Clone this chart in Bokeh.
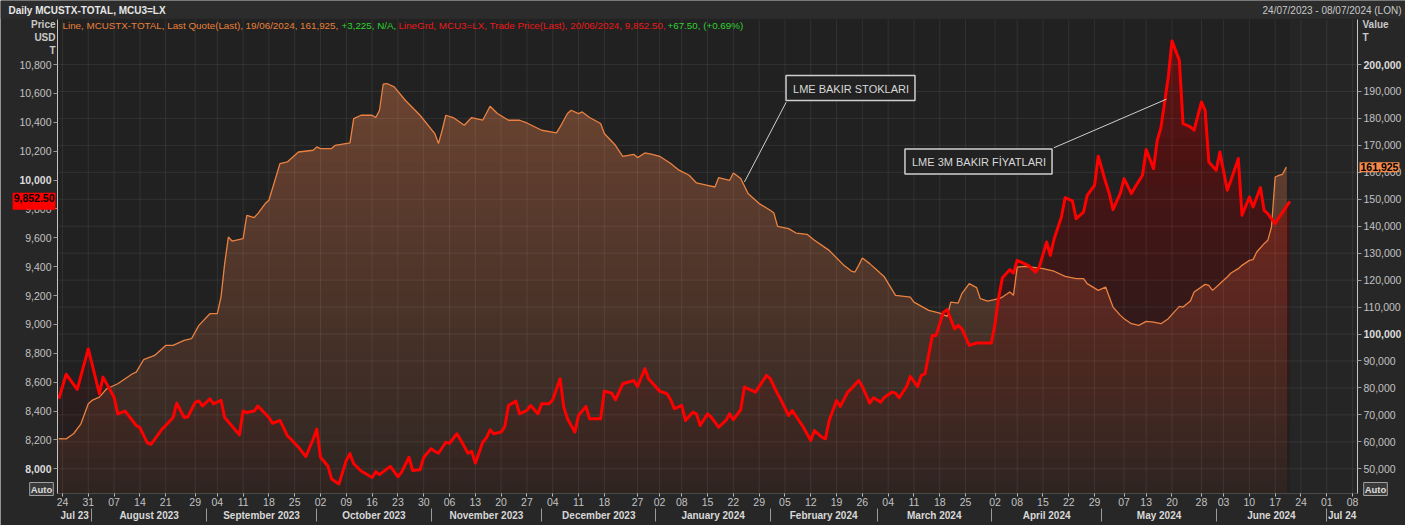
import numpy as np
import pandas as pd
from bokeh.plotting import figure
from bokeh.models import (Range1d, LinearAxis, FixedTicker, NumeralTickFormatter,
                          DatetimeTickFormatter, Label, Arrow, BoxAnnotation)
from bokeh.embed import file_html
from bokeh.resources import INLINE

# ---------------- data ----------------
price_dates = [
    "2023-07-23", "2023-07-25", "2023-07-28", "2023-07-31", "2023-08-03", "2023-08-04", "2023-08-07",
    "2023-08-08", "2023-08-10", "2023-08-13", "2023-08-14", "2023-08-16", "2023-08-17", "2023-08-20",
    "2023-08-21", "2023-08-23", "2023-08-24", "2023-08-26", "2023-08-27", "2023-08-29", "2023-08-30",
    "2023-08-31", "2023-09-02", "2023-09-03", "2023-09-05", "2023-09-06", "2023-09-10", "2023-09-11",
    "2023-09-12", "2023-09-14", "2023-09-15", "2023-09-18", "2023-09-19", "2023-09-21", "2023-09-23",
    "2023-09-24", "2023-09-26", "2023-09-28", "2023-09-30", "2023-10-01", "2023-10-02", "2023-10-04",
    "2023-10-05", "2023-10-07", "2023-10-09", "2023-10-10", "2023-10-11", "2023-10-13", "2023-10-16",
    "2023-10-17", "2023-10-18", "2023-10-20", "2023-10-21", "2023-10-23", "2023-10-24", "2023-10-26",
    "2023-10-27", "2023-10-29", "2023-10-30", "2023-11-01", "2023-11-02", "2023-11-03", "2023-11-05",
    "2023-11-06", "2023-11-08", "2023-11-09", "2023-11-11", "2023-11-12", "2023-11-13", "2023-11-15",
    "2023-11-16", "2023-11-17", "2023-11-18", "2023-11-20", "2023-11-21", "2023-11-22", "2023-11-24",
    "2023-11-25", "2023-11-27", "2023-11-28", "2023-11-30", "2023-12-01", "2023-12-03", "2023-12-04",
    "2023-12-06", "2023-12-07", "2023-12-08", "2023-12-10", "2023-12-11", "2023-12-13", "2023-12-14",
    "2023-12-16", "2023-12-17", "2023-12-18", "2023-12-20", "2023-12-21", "2023-12-23", "2023-12-26",
    "2023-12-27", "2023-12-29", "2023-12-30", "2024-01-01", "2024-01-02", "2024-01-04", "2024-01-05",
    "2024-01-06", "2024-01-08", "2024-01-09", "2024-01-11", "2024-01-12", "2024-01-13", "2024-01-15",
    "2024-01-16", "2024-01-18", "2024-01-20", "2024-01-21", "2024-01-22", "2024-01-24", "2024-01-25",
    "2024-01-28", "2024-01-31", "2024-02-01", "2024-02-03", "2024-02-04", "2024-02-06", "2024-02-07",
    "2024-02-10", "2024-02-12", "2024-02-13", "2024-02-15", "2024-02-16", "2024-02-17", "2024-02-19",
    "2024-02-20", "2024-02-22", "2024-02-23", "2024-02-25", "2024-02-26", "2024-02-28", "2024-02-29",
    "2024-03-02", "2024-03-03", "2024-03-05", "2024-03-06", "2024-03-07", "2024-03-09", "2024-03-10",
    "2024-03-12", "2024-03-13", "2024-03-14", "2024-03-16", "2024-03-17", "2024-03-19", "2024-03-20",
    "2024-03-22", "2024-03-23", "2024-03-24", "2024-03-26", "2024-03-28", "2024-03-30", "2024-04-01",
    "2024-04-02", "2024-04-03", "2024-04-04", "2024-04-06", "2024-04-07", "2024-04-08", "2024-04-11",
    "2024-04-13", "2024-04-14", "2024-04-16", "2024-04-17", "2024-04-18", "2024-04-20", "2024-04-21",
    "2024-04-23", "2024-04-24", "2024-04-26", "2024-04-27", "2024-04-29", "2024-04-30", "2024-05-02",
    "2024-05-03", "2024-05-04", "2024-05-06", "2024-05-07", "2024-05-09", "2024-05-10", "2024-05-12",
    "2024-05-13", "2024-05-15", "2024-05-16", "2024-05-17", "2024-05-19", "2024-05-20", "2024-05-22",
    "2024-05-23", "2024-05-25", "2024-05-26", "2024-05-28", "2024-05-29", "2024-05-30", "2024-06-01",
    "2024-06-02", "2024-06-04", "2024-06-05", "2024-06-07", "2024-06-08", "2024-06-10", "2024-06-11",
    "2024-06-13", "2024-06-14", "2024-06-15", "2024-06-17", "2024-06-18", "2024-06-21",
]
price_values = [
    8485, 8655, 8550, 8830, 8520, 8635, 8495,
    8380, 8400, 8300, 8285, 8180, 8170, 8275,
    8300, 8355, 8455, 8355, 8360, 8460, 8470,
    8435, 8485, 8450, 8475, 8355, 8235, 8400,
    8390, 8400, 8435, 8355, 8315, 8335, 8230,
    8205, 8150, 8085, 8205, 8275, 8080, 8020,
    7930, 7895, 8060, 8105, 8035, 7985, 7940,
    7980, 7960, 8000, 8015, 7945, 7977, 8080,
    7988, 7993, 8080, 8139, 8122, 8108, 8184,
    8177, 8243, 8201, 8108, 8122, 8039, 8184,
    8215, 8270, 8243, 8254, 8293, 8439, 8469,
    8381, 8404, 8439, 8381, 8451, 8451, 8478,
    8624, 8427, 8347, 8254, 8369, 8432, 8347,
    8347, 8347, 8538, 8524, 8478, 8589, 8612,
    8570, 8693, 8624, 8566, 8538, 8520, 8478,
    8416, 8439, 8335, 8392, 8381, 8300, 8381,
    8358, 8288, 8335, 8381, 8340, 8409, 8566,
    8531, 8647, 8624, 8520, 8473, 8369, 8404,
    8288, 8196, 8265, 8219, 8208, 8335, 8473,
    8432, 8531, 8554, 8612, 8570, 8455, 8492,
    8462, 8496, 8531, 8524, 8492, 8570, 8640,
    8570, 8647, 8658, 8924, 8924, 9085, 9102,
    8970, 8993, 8970, 8855, 8871, 8871, 8871,
    9005, 9189, 9324, 9379, 9356, 9444, 9409,
    9363, 9397, 9571, 9478, 9590, 9744, 9878,
    9855, 9733, 9778, 9894, 9964, 10165, 9986,
    9906, 9795, 9910, 10010, 9906, 9952, 10033,
    10211, 10079, 10275, 10363, 10714, 10964, 10830,
    10391, 10368, 10345, 10541, 10483, 10125, 10068,
    10194, 9929, 9998, 10149, 9756, 9882, 9813,
    9948, 9790, 9767, 9698, 9740, 9852.50,
]

stock_dates = [
    "2023-07-23", "2023-07-25", "2023-07-27", "2023-07-29", "2023-07-31", "2023-08-01", "2023-08-03",
    "2023-08-05", "2023-08-08", "2023-08-12", "2023-08-13", "2023-08-15", "2023-08-18", "2023-08-21",
    "2023-08-23", "2023-08-26", "2023-08-28", "2023-08-30", "2023-09-02", "2023-09-04", "2023-09-05",
    "2023-09-06", "2023-09-07", "2023-09-08", "2023-09-11", "2023-09-12", "2023-09-14", "2023-09-15",
    "2023-09-17", "2023-09-18", "2023-09-21", "2023-09-23", "2023-09-26", "2023-09-30", "2023-10-01",
    "2023-10-02", "2023-10-05", "2023-10-06", "2023-10-10", "2023-10-11", "2023-10-13", "2023-10-16",
    "2023-10-17", "2023-10-18", "2023-10-19", "2023-10-20", "2023-10-22", "2023-10-25", "2023-10-29",
    "2023-11-02", "2023-11-03", "2023-11-04", "2023-11-05", "2023-11-07", "2023-11-10", "2023-11-12",
    "2023-11-15", "2023-11-17", "2023-11-19", "2023-11-22", "2023-11-25", "2023-11-27", "2023-12-01",
    "2023-12-05", "2023-12-06", "2023-12-08", "2023-12-09", "2023-12-11", "2023-12-12", "2023-12-14",
    "2023-12-17", "2023-12-18", "2023-12-21", "2023-12-23", "2023-12-26", "2023-12-27", "2023-12-29",
    "2023-12-31", "2024-01-02", "2024-01-05", "2024-01-07", "2024-01-10", "2024-01-12", "2024-01-15",
    "2024-01-17", "2024-01-18", "2024-01-21", "2024-01-22", "2024-01-24", "2024-01-26", "2024-01-29",
    "2024-02-01", "2024-02-02", "2024-02-03", "2024-02-06", "2024-02-08", "2024-02-11", "2024-02-13",
    "2024-02-17", "2024-02-21", "2024-02-23", "2024-02-24", "2024-02-25", "2024-02-26", "2024-02-28",
    "2024-03-01", "2024-03-03", "2024-03-06", "2024-03-10", "2024-03-11", "2024-03-15", "2024-03-18",
    "2024-03-20", "2024-03-21", "2024-03-23", "2024-03-24", "2024-03-26", "2024-03-28", "2024-03-29",
    "2024-03-31", "2024-04-03", "2024-04-04", "2024-04-06", "2024-04-07", "2024-04-08", "2024-04-10",
    "2024-04-13", "2024-04-15", "2024-04-18", "2024-04-21", "2024-04-24", "2024-04-26", "2024-04-27",
    "2024-04-30", "2024-05-02", "2024-05-03", "2024-05-04", "2024-05-06", "2024-05-07", "2024-05-09",
    "2024-05-11", "2024-05-13", "2024-05-15", "2024-05-17", "2024-05-19", "2024-05-21", "2024-05-22",
    "2024-05-23", "2024-05-25", "2024-05-26", "2024-05-29", "2024-05-30", "2024-05-31", "2024-06-02",
    "2024-06-03", "2024-06-04", "2024-06-05", "2024-06-07", "2024-06-08", "2024-06-10", "2024-06-11",
    "2024-06-12", "2024-06-14", "2024-06-15", "2024-06-16", "2024-06-17", "2024-06-18", "2024-06-19",
    "2024-06-20",
]
stock_values = [
    61140, 61100, 63000, 66700, 74100, 75360, 76600,
    79700, 81560, 85270, 85870, 90470, 92070, 95780,
    95780, 97640, 98270, 103200, 107550, 107550, 113700,
    126100, 135990, 134500, 135400, 144050, 143200, 144680,
    148400, 149620, 163250, 163840, 167550, 168190, 169410,
    168820, 168820, 170040, 170900, 179960, 181180, 181180,
    180330, 183040, 192690, 192950, 191690, 186750, 181180,
    174390, 170670, 175610, 181180, 180330, 177470, 180330,
    179330, 184520, 181810, 179330, 179330, 178320, 175610,
    174610, 176840, 181810, 183040, 181810, 182410, 180330,
    178100, 174390, 170040, 165960, 166700, 165470, 167180,
    166700, 165960, 163250, 161020, 158900, 156050, 155190,
    154560, 158000, 157050, 159760, 157680, 152110, 148400,
    145910, 144900, 139970, 139110, 137480, 137000, 134770,
    131050, 125490, 123370, 123000, 125490, 128200, 126120,
    123630, 121140, 114350, 113710, 111860, 108780, 107770,
    106550, 111860, 111490, 114980, 118690, 117210, 113120,
    112230, 113120, 113710, 115570, 114350, 124850, 125110,
    124630, 124260, 123300, 121400, 120550, 120550, 118690,
    116200, 117430, 113710, 110000, 106920, 105700, 103840,
    103210, 104690, 104440, 103840, 105700, 108780, 110260,
    110000, 112230, 115570, 118430, 118060, 116200, 118690,
    119920, 121140, 122630, 124260, 125490, 127340, 127600,
    130420, 133540, 134770, 139710, 158270, 158900, 159280,
    161925,
]

day_ticks = [
    "2023-07-24", "2023-07-31", "2023-08-07", "2023-08-14", "2023-08-21", "2023-08-29", "2023-09-04",
    "2023-09-11", "2023-09-18", "2023-09-25", "2023-10-02", "2023-10-09", "2023-10-16", "2023-10-23",
    "2023-10-30", "2023-11-06", "2023-11-13", "2023-11-20", "2023-11-27", "2023-12-04", "2023-12-11",
    "2023-12-18", "2023-12-27", "2024-01-02", "2024-01-08", "2024-01-15", "2024-01-22", "2024-01-29",
    "2024-02-05", "2024-02-12", "2024-02-19", "2024-02-26", "2024-03-04", "2024-03-11", "2024-03-18",
    "2024-03-25", "2024-04-02", "2024-04-08", "2024-04-15", "2024-04-22", "2024-04-29", "2024-05-07",
    "2024-05-13", "2024-05-20", "2024-05-28", "2024-06-03", "2024-06-10", "2024-06-17", "2024-06-24",
    "2024-07-01", "2024-07-08",
]
month_names = ["Jul 23", "August 2023", "September 2023", "October 2023", "November 2023",
               "December 2023", "January 2024", "February 2024", "March 2024", "April 2024",
               "May 2024", "June 2024", "Jul 24"]
month_starts = ["2023-08-01", "2023-09-01", "2023-10-01", "2023-11-01", "2023-12-01", "2024-01-01",
                "2024-02-01", "2024-03-01", "2024-04-01", "2024-05-01", "2024-06-01", "2024-07-01"]
price_ticks = list(range(8000, 10801, 200))
stock_ticks = list(range(50000, 200001, 10000))
price_bold = [8000, 10000]
stock_bold = [100000, 200000]

# ---------------- geometry helpers ----------------
def ms(s):
    return int(pd.Timestamp(s).value // 10**6)

def hexc(rgb):
    return "#%02x%02x%02x" % tuple(int(round(c)) for c in rgb)

W, H = 1405, 525                         # canvas == frame
CL, CR, CT, CB = 57, 1357, 19, 493       # chart (plot-area) box in canvas pixels
X_START, X_END = ms("2023-07-22 15:30"), ms("2024-07-09 08:00")
P_LO, P_HI = 7829, 11112
S_LO, S_HI = 40829, 216709

mpp = (X_END - X_START) / (CR - CL)
spp = (S_HI - S_LO) / (CB - CT)
ppp = (P_HI - P_LO) / (CB - CT)
XF0, XF1 = X_START - CL * mpp, X_END + (W - CR) * mpp
SF0, SF1 = S_LO - (H - CB) * spp, S_HI + CT * spp
PF0, PF1 = P_LO - (H - CB) * ppp, P_HI + CT * ppp

px = pd.to_datetime(price_dates)
sx = pd.to_datetime(stock_dates)
pv = np.array(price_values, dtype=float)
sv = np.array(stock_values, dtype=float)

p = figure(width=W, height=H, title=None, x_axis_type="datetime", y_axis_location="right",
           x_range=Range1d(XF0, XF1), y_range=Range1d(SF0, SF1),
           output_backend="svg", toolbar_location=None, min_border=0,
           background_fill_color="#272727", border_fill_color="#272727",
           outline_line_color=None)
p.extra_y_ranges = {"price": Range1d(PF0, PF1)}
p.xgrid.visible = False
p.ygrid.visible = False

# header strip and plot-area background
p.add_layout(BoxAnnotation(left=0, right=W, top=H, bottom=H - 18, left_units="screen",
                           right_units="screen", top_units="screen", bottom_units="screen",
                           fill_color="#2c2c2c", fill_alpha=1, line_color=None, level="underlay"))
p.quad(left=[X_START], right=[X_END], bottom=[S_LO], top=[S_HI],
       fill_color="#212121", line_color=None)
p.quad(left=[px[-1]], right=[X_END], bottom=[S_LO], top=[S_HI],
       fill_color="#252525", line_color=None)

# ---- stocks area: vertical gradient built from opaque bands (top first) ----
bot_rgb = np.array([46, 37, 34])
top_rgb = np.array([117, 72, 51])
NB = 40
edges = np.linspace(S_LO, S_HI, NB + 1)
for k in range(NB, 0, -1):
    if sv.max() <= edges[k - 1]:
        continue
    f = (k - 0.5) / NB
    p.varea(x=sx, y1=S_LO, y2=np.minimum(sv, edges[k]),
            fill_color=hexc(bot_rgb + f * (top_rgb - bot_rgb)), fill_alpha=1.0)

# ---- price area: translucent red gradient (stacked thin layers) ----
NP = 20
pedges = np.linspace(P_LO, P_HI, NP + 1)
for k in range(NP):
    a = pedges[k]
    if pv.max() <= a:
        continue
    p.varea(x=px, y1=a, y2=np.maximum(pv, a), fill_color="#b40c0c",
            fill_alpha=0.012 + 0.0022 * k, y_range_name="price")

# ---- grid (drawn over the fills, faint) ----
day_ms = [ms(d) for d in day_ticks]
p.segment(x0=day_ms, y0=S_LO, x1=day_ms, y1=S_HI, line_color="#ffffff", line_alpha=0.075,
          line_width=1)
p.segment(x0=X_START, y0=stock_ticks, x1=X_END, y1=stock_ticks, line_color="#ffffff",
          line_alpha=0.075, line_width=1)

# ---- lines ----
p.line(sx, sv, line_color="#ea8140", line_width=1.3)
p.line(px, pv, line_color="#ff0000", line_width=3, line_join="round", y_range_name="price")

# ---------------- axes (pinned to the plot-area edges) ----------------
AX_TXT = "#c2c2c2"
FONT = "Liberation Sans"

xa = p.xaxis[0]
xa.ticker = FixedTicker(ticks=day_ms)
xa.formatter = DatetimeTickFormatter(days="%d", months="%d", years="%d")
xa.fixed_location = S_LO
xa.bounds = (X_START, X_END)
xa.axis_line_color = "#4a4a4a"
xa.major_tick_line_color = "#bbbbbb"
xa.major_tick_out = 3
xa.major_tick_in = 0
xa.minor_tick_line_color = None
xa.minor_tick_out = 0
xa.major_label_standoff = 1
xa.major_label_text_color = AX_TXT
xa.major_label_text_font = FONT
xa.major_label_text_font_size = "10.5px"

bounds = [X_START] + [ms(m) for m in month_starts] + [X_END]
mids = [(bounds[i] + bounds[i + 1]) // 2 for i in range(len(bounds) - 1)]
month_axis = LinearAxis(ticker=FixedTicker(ticks=mids, minor_ticks=[ms(m) for m in month_starts]),
                        major_label_overrides={m: t for m, t in zip(mids, month_names)},
                        fixed_location=S_LO - 15 * spp, bounds=(X_START, X_END),
                        axis_line_color=None, major_tick_line_color=None, major_tick_out=0,
                        major_tick_in=0, minor_tick_line_color="#9a9a9a", minor_tick_out=13,
                        minor_tick_in=0, major_label_standoff=-12,
                        major_label_text_color="#d8d8d8", major_label_text_font=FONT,
                        major_label_text_font_size="10px", major_label_text_font_style="bold")
p.add_layout(month_axis, "below")

ya = p.yaxis[0]
ya.ticker = FixedTicker(ticks=stock_ticks)
ya.formatter = NumeralTickFormatter(format="0,0")
ya.fixed_location = X_END
ya.bounds = (S_LO, S_HI)
ya.major_label_overrides = {t: "" for t in stock_bold}

price_axis = LinearAxis(y_range_name="price", ticker=FixedTicker(ticks=price_ticks),
                        formatter=NumeralTickFormatter(format="0,0"),
                        fixed_location=X_START, bounds=(P_LO, P_HI),
                        major_label_overrides={t: "" for t in price_bold})
p.add_layout(price_axis, "left")

for ax in (ya, price_axis):
    ax.axis_line_color = "#c4c4c4"
    ax.major_tick_line_color = "#9a9a9a"
    ax.major_tick_out = 4
    ax.major_tick_in = 0
    ax.minor_tick_line_color = None
    ax.minor_tick_out = 0
    ax.major_label_standoff = 2
    ax.major_label_text_color = AX_TXT
    ax.major_label_text_font = FONT
    ax.major_label_text_font_size = "10.5px"

# ---------------- texts ----------------
def lab(text, x, y, align="left", size="10px", color="#c8c8c8", style="normal", **kw):
    """x, y are canvas pixels measured from the top-left corner."""
    p.add_layout(Label(x=x, y=H - y, x_units="screen", y_units="screen", text=text,
                       text_align=align, text_baseline="middle", text_font=FONT,
                       text_font_size=size, text_color=color, text_font_style=style, **kw))

lab("Daily MCUSTX-TOTAL, MCU3=LX", 8, 9.5, size="10px", color="#e6e6e6", style="bold")
lab("24/07/2023 - 08/07/2024 (LON)", 1401, 9.5, align="right", color="#c8c8c8")
lab("Price", 55, 24, align="right", style="bold")
lab("USD", 55, 37, align="right", style="bold")
lab("T", 55, 50, align="right", style="bold")
lab("Value", 1362, 24, style="bold")
lab("T", 1362, 37, style="bold")
lab("Auto", 41, 488.5, align="center", size="9.5px", style="bold", color="#dddddd",
    background_fill_color="#3a3a3a", border_line_color="#a0a0a0", padding=1)
lab("Auto", 1375, 488.5, align="center", size="9.5px", style="bold", color="#dddddd",
    background_fill_color="#3a3a3a", border_line_color="#a0a0a0", padding=1)

# bold round-number tick labels
for t in price_bold:
    p.add_layout(Label(x=CL - 6, y=t, x_units="screen", y_units="data", y_range_name="price",
                       text=f"{t:,}", text_align="right", text_baseline="middle",
                       text_font=FONT, text_font_size="10.5px", text_font_style="bold",
                       text_color="#dcdcdc"))
for t in stock_bold:
    p.add_layout(Label(x=CR + 6, y=t, x_units="screen", y_units="data",
                       text=f"{t:,}", text_align="left", text_baseline="middle",
                       text_font=FONT, text_font_size="10.5px", text_font_style="bold",
                       text_color="#dcdcdc"))

# legend line (multi-coloured)
last_p, last_s = price_values[-1], stock_values[-1]
LEG = "9.8px"
lab("Line, MCUSTX-TOTAL, Last Quote(Last), 19/06/2024, %s," % f"{last_s:,}", 62, 25,
    size=LEG, color="#e8803a")
lab("+3,225, N/A,", 341, 25, size=LEG, color="#2fd12f")
lab("LineGrd, MCU3=LX, Trade Price(Last), 20/06/2024, %s," % f"{last_p:,.2f}", 398, 25,
    size=LEG, color="#e81a1a")
lab("+67.50, (+0.69%)", 667, 25, size=LEG, color="#2fd12f")

# last-value markers on the axes
p.add_layout(Label(x=CL - 2, y=last_p, x_units="screen", y_units="data", y_range_name="price",
                   text=f"{last_p:,.2f}", text_align="right", text_baseline="middle",
                   text_font=FONT, text_font_size="10.5px", text_font_style="bold",
                   text_color="#000000", background_fill_color="#ff0000",
                   padding=(1, 1, 1, 8)))
p.add_layout(Label(x=CR + 2, y=last_s, x_units="screen", y_units="data",
                   text=f"{last_s:,}", text_align="left", text_baseline="middle",
                   text_font=FONT, text_font_size="10.5px", text_font_style="bold",
                   text_color="#000000", background_fill_color="#f5894a", padding=1))

# callout boxes
box_kw = dict(background_fill_color="#222222", border_line_color="#cfcfcf",
              border_line_width=1.5, padding=(7, 6, 7, 6))
lab("LME BAKIR STOKLARI", 850, 87.5, align="center", size="11px", color="#d8d8d8", **box_kw)
lab("LME 3M BAKIR FİYATLARI", 978, 161, align="center", size="11px", color="#d8d8d8", **box_kw)
p.add_layout(Arrow(end=None, x_start=785.7, y_start=H - 101.7, start_units="screen",
                   x_end=ms("2024-01-25"), y_end=156400, end_units="data",
                   line_color="#cfcfcf", line_width=1))
p.add_layout(Arrow(end=None, x_start=1053.3, y_start=H - 147.3, start_units="screen",
                   x_end=ms("2024-05-18 12:00"), y_end=10560, end_units="data",
                   y_range_name="price", line_color="#cfcfcf", line_width=1))

open("out.html", "w").write(file_html(p, INLINE))
